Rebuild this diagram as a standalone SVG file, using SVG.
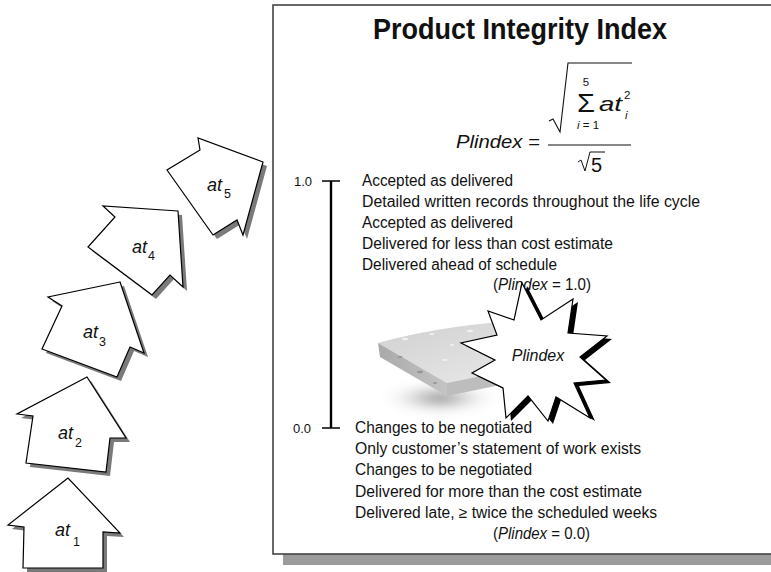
<svg xmlns="http://www.w3.org/2000/svg" width="771" height="572" viewBox="0 0 771 572">
  <defs>
    <style>
      .txt { font-family: "Liberation Sans Narrow", "Liberation Sans", Arial, sans-serif; fill: #111; }
      .body { font-size: 16px; }
      .it { font-style: italic; }
      .house { fill: #fff; stroke: #000; stroke-width: 1.2; stroke-linejoin: miter; }
      .shadow { fill: #7a7a7a; }
      .lbl { font-size: 18px; font-style: italic; }
      .sub { font-size: 12.5px; }
    </style>
    <linearGradient id="slabTop" x1="0" y1="0" x2="1" y2="1">
      <stop offset="0" stop-color="#cfcfcf"/>
      <stop offset="1" stop-color="#ececec"/>
    </linearGradient>
    <linearGradient id="slabFront" x1="0" y1="0" x2="1" y2="0">
      <stop offset="0" stop-color="#a9a9a9"/>
      <stop offset="1" stop-color="#c4c4c4"/>
    </linearGradient>
    <radialGradient id="slabShadow" cx="0.5" cy="0.5" r="0.5">
      <stop offset="0" stop-color="#6f6f6f"/>
      <stop offset="1" stop-color="#fff" stop-opacity="0"/>
    </radialGradient>
    <filter id="soft" x="-30%" y="-80%" width="160%" height="260%">
      <feGaussianBlur stdDeviation="6"/>
    </filter>
  </defs>

  <rect width="771" height="572" fill="#fff"/>

  <!-- panel with drop shadow -->
  <g id="panel">
    <rect x="283" y="554" width="490" height="11" fill="#9b9b9b"/>
    <rect x="273" y="5" width="510" height="549" fill="#fff" stroke="#444" stroke-width="1.6"/>
  </g>

  <!-- title -->
  <g id="title">
    <text class="txt" x="520" y="39" font-size="29" font-weight="bold" text-anchor="middle" textLength="294" lengthAdjust="spacingAndGlyphs">Product Integrity Index</text>
  </g>

  <!-- formula -->
  <g id="formula" class="txt">
    <text x="456" y="148" font-size="19" textLength="84" lengthAdjust="spacingAndGlyphs"><tspan class="it">Plindex</tspan> =</text>
    <path d="M549,121 L553,119 L560,132 L568,63 L632,63" fill="none" stroke="#111" stroke-width="1.1"/>
    <line x1="548" y1="145" x2="631" y2="145" stroke="#111" stroke-width="1.2"/>
    <text x="586" y="86" font-size="11.5" text-anchor="middle">5</text>
    <text x="577" y="112" font-size="25" textLength="18" lengthAdjust="spacingAndGlyphs">Σ</text>
    <text x="577" y="129" font-size="11.5"><tspan class="it">i</tspan> = 1</text>
    <text x="599" y="111" font-size="21" class="it" textLength="23" lengthAdjust="spacingAndGlyphs">at</text>
    <text x="624" y="99" font-size="11.5">2</text>
    <text x="625" y="119" font-size="11.5" class="it">i</text>
    <path d="M578,162 L581,160 L585,171 L590,152 L605,152" fill="none" stroke="#111" stroke-width="1"/>
    <text x="591" y="172" font-size="20">5</text>
  </g>

  <!-- scale bar -->
  <g id="scale">
    <line x1="331" y1="181" x2="331" y2="428" stroke="#000" stroke-width="2.4"/>
    <line x1="322" y1="181" x2="340" y2="181" stroke="#000" stroke-width="1.5"/>
    <line x1="322" y1="428" x2="340" y2="428" stroke="#000" stroke-width="1.5"/>
    <text class="txt" x="294" y="186" font-size="13">1.0</text>
    <text class="txt" x="293" y="433" font-size="13">0.0</text>
  </g>

  <!-- upper criteria -->
  <g id="upper" class="txt body">
    <text x="362" y="186" textLength="151" lengthAdjust="spacingAndGlyphs">Accepted as delivered</text>
    <text x="362" y="207" textLength="338" lengthAdjust="spacingAndGlyphs">Detailed written records throughout the life cycle</text>
    <text x="362" y="228" textLength="151" lengthAdjust="spacingAndGlyphs">Accepted as delivered</text>
    <text x="362" y="249" textLength="251" lengthAdjust="spacingAndGlyphs">Delivered for less than cost estimate</text>
    <text x="362" y="270" textLength="195" lengthAdjust="spacingAndGlyphs">Delivered ahead of schedule</text>
    <text x="493" y="290" textLength="98" lengthAdjust="spacingAndGlyphs">(<tspan class="it">Plindex</tspan> = 1.0)</text>
  </g>

  <!-- lower criteria -->
  <g id="lower" class="txt body">
    <text x="355" y="433" textLength="177" lengthAdjust="spacingAndGlyphs">Changes to be negotiated</text>
    <text x="355" y="454" textLength="286" lengthAdjust="spacingAndGlyphs">Only customer’s statement of work exists</text>
    <text x="355" y="475" textLength="177" lengthAdjust="spacingAndGlyphs">Changes to be negotiated</text>
    <text x="355" y="497" textLength="287" lengthAdjust="spacingAndGlyphs">Delivered for more than the cost estimate</text>
    <text x="355" y="518" textLength="302" lengthAdjust="spacingAndGlyphs">Delivered late, ≥ twice the scheduled weeks</text>
    <text x="493" y="539" textLength="97" lengthAdjust="spacingAndGlyphs">(<tspan class="it">Plindex</tspan> = 0.0)</text>
  </g>

  <!-- slab -->
  <g id="slab">
    <ellipse cx="440" cy="398" rx="62" ry="15" fill="url(#slabShadow)" filter="url(#soft)"/>
    <path d="M378,343 Q440,326 515,321 L560,333 L500,372 L447,383 Z" fill="url(#slabTop)"/>
    <path d="M378,343 L447,383 L447,396 L380,357 Z" fill="url(#slabFront)"/>
    <path d="M447,383 L500,372 L500,385 L447,396 Z" fill="#bdbdbd"/>
    <g fill="#f2f2f2">
      <ellipse cx="405" cy="339" rx="3" ry="1.2"/>
      <ellipse cx="432" cy="334" rx="2.5" ry="1"/>
      <ellipse cx="452" cy="345" rx="2" ry="1"/>
      <ellipse cx="470" cy="331" rx="3" ry="1.2"/>
      <ellipse cx="478" cy="352" rx="2" ry="1"/>
      <ellipse cx="445" cy="360" rx="2.5" ry="1"/>
    </g>
    <g fill="#959595">
      <ellipse cx="400" cy="357" rx="2.5" ry="1"/>
      <ellipse cx="420" cy="372" rx="3" ry="1.2"/>
      <ellipse cx="435" cy="383" rx="2" ry="1"/>
    </g>
  </g>

  <!-- starburst -->
  <g id="star">
    <polygon transform="translate(5,3)" fill="#000" points="522,283 541,320 573,299 568,333 607,336 580,357 606,380 574,383 590,418 556,397 548,421 528,396 506,418 503,388 472,373 495,360 461,343 497,335 488,311 514,320"/>
    <polygon fill="#fff" stroke="#000" stroke-width="1.2" points="522,283 541,320 573,299 568,333 607,336 580,357 606,380 574,383 590,418 556,397 548,421 528,396 506,418 503,388 472,373 495,360 461,343 497,335 488,311 514,320"/>
    <text class="txt it" x="538" y="361" font-size="16" text-anchor="middle">Plindex</text>
  </g>

  <!-- at_i houses -->
  <g id="at1">
    <polygon class="shadow" transform="translate(4,4)" points="68,478 8,525 24,527 23,568 103,568 103,532 120,533"/>
    <polygon class="house" points="68,478 8,525 24,527 23,568 103,568 103,532 120,533"/>
    <text class="txt lbl" x="55" y="536">at</text><text class="txt sub" x="73" y="546">1</text>
  </g>
  <g id="at2">
    <polygon class="shadow" transform="translate(4,4)" points="87,377 17,414 33,416 26,463 106,472 110,438 126,438"/>
    <polygon class="house" points="87,377 17,414 33,416 26,463 106,472 110,438 126,438"/>
    <text class="txt lbl" x="58" y="439">at</text><text class="txt sub" x="75" y="447">2</text>
  </g>
  <g id="at3">
    <polygon class="shadow" transform="translate(4,4)" points="120,282 48,297 62,306 42,349 117,377 130,347 144,353"/>
    <polygon class="house" points="120,282 48,297 62,306 42,349 117,377 130,347 144,353"/>
    <text class="txt lbl" x="83" y="338">at</text><text class="txt sub" x="99" y="346">3</text>
  </g>
  <g id="at4">
    <polygon class="shadow" transform="translate(4,4)" points="178,211 103,206 115,217 88,247 152,295 170,275 183,287"/>
    <polygon class="house" points="178,211 103,206 115,217 88,247 152,295 170,275 183,287"/>
    <text class="txt lbl" x="132" y="253">at</text><text class="txt sub" x="148" y="260">4</text>
  </g>
  <g id="at5">
    <polygon class="shadow" transform="translate(4,4)" points="263,162 198,138 200,150 167,170 213,235 237,220 243,235"/>
    <polygon class="house" points="263,162 198,138 200,150 167,170 213,235 237,220 243,235"/>
    <text class="txt lbl" x="207" y="191">at</text><text class="txt sub" x="224" y="198">5</text>
  </g>
</svg>
